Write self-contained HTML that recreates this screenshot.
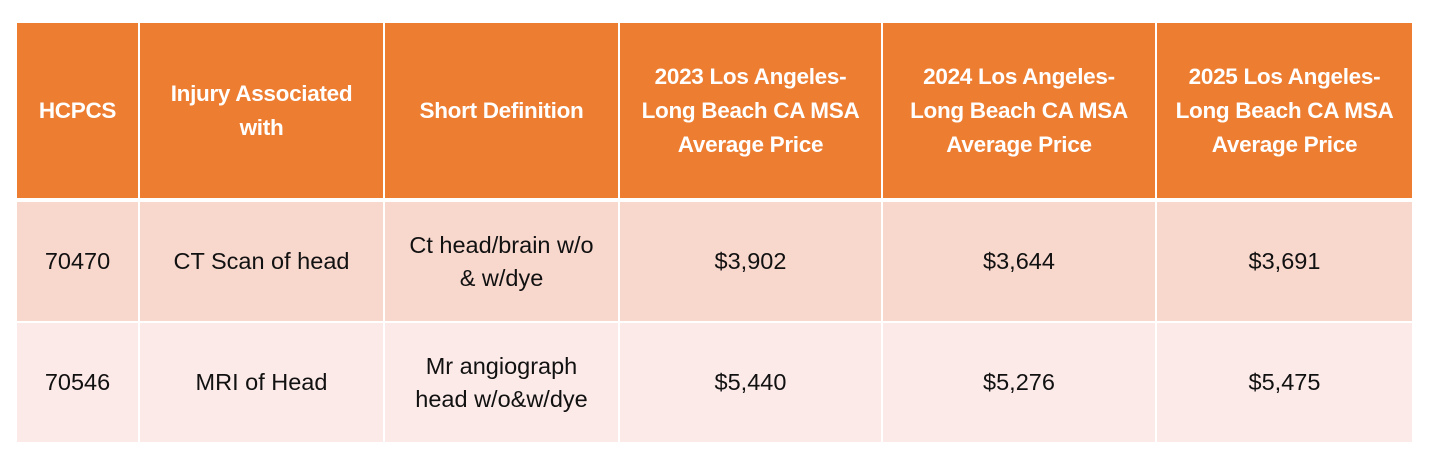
<!DOCTYPE html>
<html><head><style>
body{margin:0;width:1430px;height:467px;background:#fff;position:relative;overflow:hidden;font-family:"Liberation Sans",sans-serif;}
.c{position:absolute;display:flex;align-items:center;justify-content:center;text-align:center;box-sizing:border-box;}
.h{background:#ED7D31;color:#fff;font-weight:bold;font-size:22.5px;line-height:34px;letter-spacing:-0.3px;}
.r1{background:#F8D7CD;color:#111;font-size:23.5px;line-height:33px;}
.r2{background:#FCEAE8;color:#111;font-size:23.5px;line-height:33px;}
</style></head><body>
<div class="c h" style="left:17px;top:23px;width:121px;height:175px">HCPCS</div>
<div class="c h" style="left:140px;top:23px;width:243px;height:175px">Injury Associated<br>with</div>
<div class="c h" style="left:385px;top:23px;width:233px;height:175px">Short Definition</div>
<div class="c h" style="left:620px;top:23px;width:261px;height:175px">2023 Los Angeles-<br>Long Beach CA MSA<br>Average Price</div>
<div class="c h" style="left:883px;top:23px;width:272px;height:175px">2024 Los Angeles-<br>Long Beach CA MSA<br>Average Price</div>
<div class="c h" style="left:1157px;top:23px;width:255px;height:175px">2025 Los Angeles-<br>Long Beach CA MSA<br>Average Price</div>

<div class="c r1" style="left:17px;top:202px;width:121px;height:119px">70470</div>
<div class="c r1" style="left:140px;top:202px;width:243px;height:119px">CT Scan of head</div>
<div class="c r1" style="left:385px;top:202px;width:233px;height:119px">Ct head/brain w/o<br>&amp; w/dye</div>
<div class="c r1" style="left:620px;top:202px;width:261px;height:119px">$3,902</div>
<div class="c r1" style="left:883px;top:202px;width:272px;height:119px">$3,644</div>
<div class="c r1" style="left:1157px;top:202px;width:255px;height:119px">$3,691</div>

<div class="c r2" style="left:17px;top:323px;width:121px;height:119px">70546</div>
<div class="c r2" style="left:140px;top:323px;width:243px;height:119px">MRI of Head</div>
<div class="c r2" style="left:385px;top:323px;width:233px;height:119px">Mr angiograph<br>head w/o&amp;w/dye</div>
<div class="c r2" style="left:620px;top:323px;width:261px;height:119px">$5,440</div>
<div class="c r2" style="left:883px;top:323px;width:272px;height:119px">$5,276</div>
<div class="c r2" style="left:1157px;top:323px;width:255px;height:119px">$5,475</div>
</body></html>
